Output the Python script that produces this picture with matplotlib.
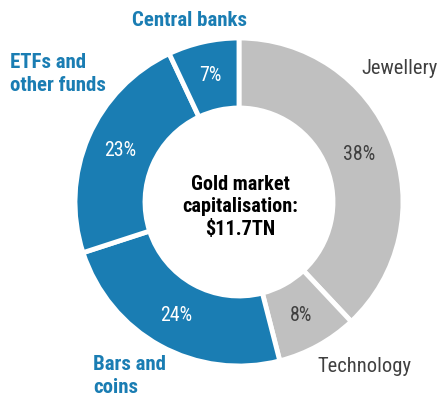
import numpy as np
import matplotlib.pyplot as plt

# gold market capitalisation breakdown
labels = ['Jewellery', 'Technology', 'Bars and\ncoins', 'ETFs and\nother funds', 'Central banks']
shares = [38, 8, 24, 23, 7]

blue = '#1a7db3'
grey = '#c0c0c0'
colors = [grey, grey, blue, blue, blue]
pct_colors = ['#404040', '#404040', 'white', 'white', 'white']

plt.rcParams['font.family'] = ['Roboto Condensed', 'Roboto', 'DejaVu Sans']

fig = plt.figure(figsize=(4.39, 3.99), dpi=100)
ax = fig.add_axes([0, 0, 1, 1])

wedges, texts, autotexts = ax.pie(
    shares, colors=colors, startangle=90, counterclock=False,
    center=(239, 197), radius=164, autopct='%d%%', pctdistance=0.79,
    wedgeprops=dict(width=70, edgecolor='white', linewidth=3.5),
    textprops=dict(fontsize=14.3), frame=True)
ax.set_xlim(0, 439)
ax.set_ylim(0, 399)
ax.axis('off')
for t, c in zip(autotexts, pct_colors):
    t.set_color(c)

ax.text(240, 192, 'Gold market\ncapitalisation:\n$11.7TN', ha='center', va='center',
        fontsize=14.6, fontweight='bold', color='black', linespacing=1.22)

# category labels
ax.text(438, 331, labels[0], ha='right', va='center', fontsize=14.8, color='#404040')
ax.text(364, 32, labels[1], ha='center', va='center', fontsize=14.8, color='#404040')
ax.text(93, 23, labels[2], ha='left', va='center', fontsize=15, fontweight='bold',
        color=blue, linespacing=1.3)
ax.text(10, 325, labels[3], ha='left', va='center', fontsize=15, fontweight='bold',
        color=blue, linespacing=1.3)
ax.text(190, 379, labels[4], ha='center', va='center', fontsize=15, fontweight='bold',
        color=blue)

fig.savefig('out.png', dpi=100)
